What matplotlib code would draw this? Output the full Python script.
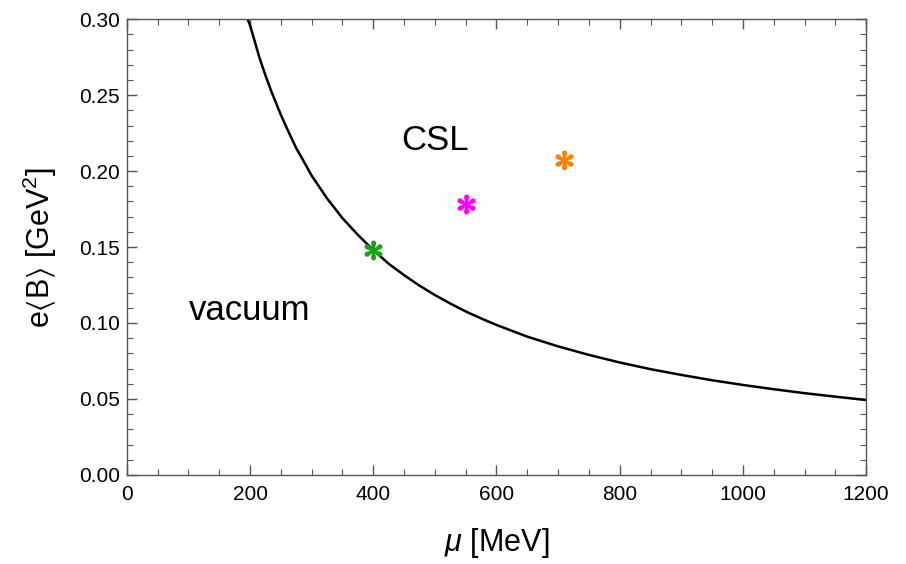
import matplotlib
matplotlib.use('Agg')
import matplotlib.pyplot as plt
from matplotlib.ticker import MultipleLocator

plt.rcParams['font.family'] = ['Liberation Sans', 'DejaVu Sans']
plt.rcParams['mathtext.fontset'] = 'custom'
plt.rcParams['mathtext.rm'] = 'Liberation Sans'
plt.rcParams['mathtext.it'] = 'Liberation Sans:italic'
plt.rcParams['mathtext.fallback'] = 'stixsans'

# boundary curve
mu_curve = [196, 200, 205, 210, 215, 225, 235, 250, 260, 275, 285, 300,
            315, 325, 350, 375, 400, 425, 450, 475, 500, 525, 550, 575,
            600, 650, 700, 750, 800, 850, 900, 950, 1000, 1050, 1100,
            1150, 1200]
b_curve = [0.300, 0.296, 0.289, 0.282, 0.275, 0.263, 0.252, 0.237, 0.228,
           0.215, 0.208, 0.197, 0.188, 0.182, 0.169, 0.158, 0.148, 0.139,
           0.1315, 0.1246, 0.1184, 0.1128, 0.1076, 0.103, 0.0987, 0.091,
           0.0846, 0.079, 0.074, 0.0696, 0.0658, 0.0623, 0.0592, 0.0564,
           0.0538, 0.0515, 0.0493]

# star markers
star_mu = [400, 550, 710]
star_b = [0.148, 0.178, 0.207]
star_colors = ['#1aa31a', '#ff00ff', '#ff8000']

fig = plt.figure(figsize=(9.06, 5.64), dpi=100)
ax = fig.add_axes([0.140, 0.158, 0.816, 0.808])

ax.plot(mu_curve, b_curve, color='black', lw=1.8, zorder=2)
for m, b, c in zip(star_mu, star_b, star_colors):
    ax.plot(m, b, marker=r'$\ast$', color=c, markersize=13, mew=1.4, zorder=3)

ax.text(500, 0.220, 'CSL', fontsize=25, ha='center', va='center')
ax.text(200, 0.1085, 'vacuum', fontsize=25, ha='center', va='center')

ax.set_xlim(0, 1200)
ax.set_ylim(0, 0.30)
ax.xaxis.set_major_locator(MultipleLocator(200))
ax.xaxis.set_minor_locator(MultipleLocator(50))
ax.yaxis.set_major_locator(MultipleLocator(0.05))
ax.yaxis.set_minor_locator(MultipleLocator(0.01))
ax.yaxis.set_major_formatter(matplotlib.ticker.FormatStrFormatter('%.2f'))

ax.tick_params(which='both', direction='in', top=True, right=True,
               color='#555555', labelsize=15)
ax.tick_params(axis='x', pad=7)
ax.tick_params(axis='y', pad=5)
ax.tick_params(which='major', length=7, width=1)
ax.tick_params(which='minor', length=4, width=0.8)
for s in ax.spines.values():
    s.set_color('#555555')
    s.set_linewidth(1)

ax.set_xlabel(r'$\mu$ [MeV]', fontsize=22, labelpad=16)
ax.set_ylabel(r'e$\langle$B$\rangle$ [GeV$^2$]', fontsize=22, labelpad=14)

fig.savefig('out.png', dpi=100)
